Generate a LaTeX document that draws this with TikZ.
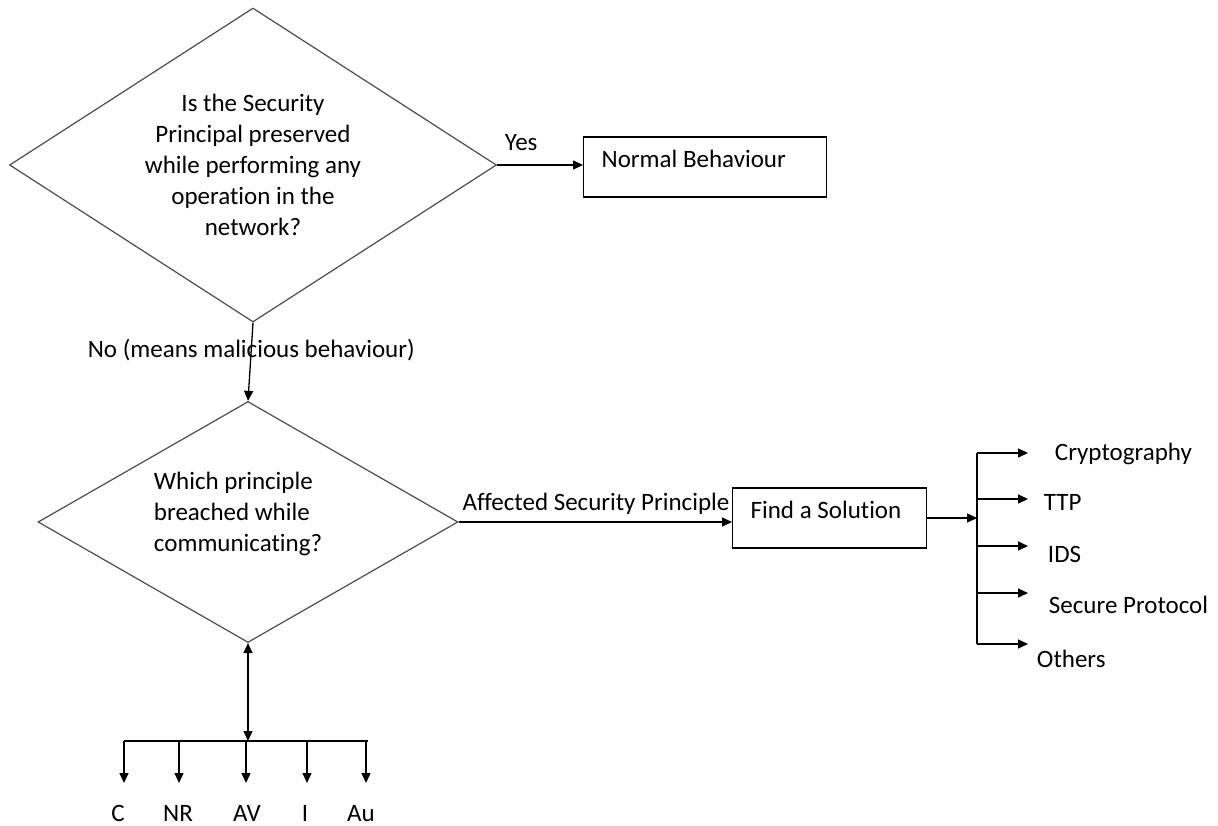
\documentclass[tikz,border=0pt]{standalone}
\usepackage{fontspec}
\setmainfont{Carlito}[Ligatures=NoCommon]
\usetikzlibrary{shapes.geometric,arrows.meta,positioning}

\tikzset{
    question/.style={draw=black!70, line width=1.2pt, diamond, inner sep=0pt, align=center},
    outbox/.style={draw, line width=1.3pt, align=flush left, inner xsep=18pt, minimum height=60pt, text depth=16pt},
}

\begin{document}
\begin{tikzpicture}[x=1pt, y=-1pt, line width=1.3pt, >={Triangle[length=10pt,width=9pt]},
    font=\fontsize{25}{31}\selectfont]
    \useasboundingbox (0,0) rectangle (1218,825);

    \node[question, aspect=1.55, minimum width=487pt, minimum height=314pt] (Q1) at (253,165)
        {Is the Security\\Principal preserved\\while performing any\\operation in the\\network?};
    \node[outbox, text width=207pt, anchor=west] (NB) at (583,167) {Normal Behaviour};
    \draw[->] (Q1.east) -- (Q1.east -| NB.west) node[pos=0.28, above=10pt] (yes) {Yes};

    \node[question, minimum width=420pt, minimum height=241pt] (Q2) at (248,522) {};
    \node[anchor=west, align=left] (Q2text) at (150,514) {Which principle\\breached while\\communicating?};
    \draw[->] (Q1.south) -- (Q2.north) node[pos=0.35] (no) {No (means malicious behaviour)};

    \node[outbox, text width=158pt, anchor=west] (FS) at (732,518) {Find a Solution};
    \draw[->] (Q2.east) -- (Q2.east -| FS.west) node[pos=0, above right, yshift=3pt] (asp) {Affected Security Principle};

    % Solutions
    \coordinate (T) at (977,518);
    \draw[->] (FS.east) -- (T);
    \foreach \i/\y/\x/\ty/\txt in {1/453/1051/460/Cryptography, 2/499/1040/510/TTP, 3/546/1044/562/IDS,
        4/593/1045/613/Secure Protocol, 5/644/1033/667/Others} {
        \coordinate (B\i) at (977,\y);
        \coordinate (E\i) at (1028,\y);
        \draw[->] (B\i) -- (E\i);
        \node[anchor=base west] (S\i) at (\x,\ty) {\txt};
    }
    \draw (B1) -- (B5);

    % Principles
    \coordinate (L) at (124,741);
    \coordinate (R) at (368,741);
    \draw[<->] (Q2.south) -- (Q2.south |- L);
    \draw (L) -- (R);
    \foreach \i/\x/\lx/\txt in {1/124/118/C, 2/179/178/NR, 3/246/247/AV, 4/307/305/I, 5/366/361/Au} {
        \coordinate (P\i) at (\x,741);
        \coordinate (D\i) at (\x,783);
        \draw[->] (P\i) -- (D\i);
        \node[anchor=base] (A\i) at (\lx,821) {\txt};
    }
\end{tikzpicture}
\end{document}
